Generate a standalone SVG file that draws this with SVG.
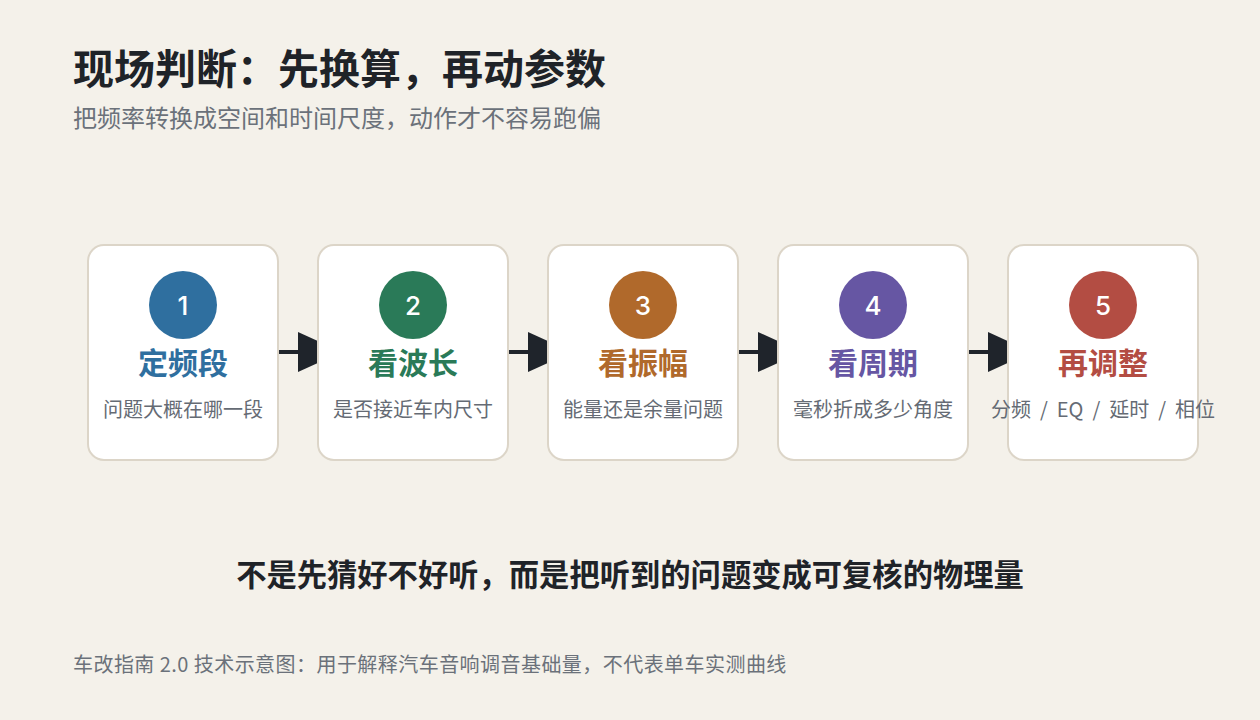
<svg xmlns="http://www.w3.org/2000/svg" width="1260" height="720" viewBox="0 0 1260 720">
<style>
.cjk{font-family:"Noto Sans CJK SC","Noto Sans",sans-serif}
.h1{font-size:41px;font-weight:700;fill:#1f2328}
.sub{font-size:24px;fill:#6b717a}
.card{fill:#ffffff;stroke:#dcd5c8;stroke-width:2}
.num{font-family:Inter,"Liberation Sans",sans-serif;font-size:26px;font-weight:500;fill:#ffffff;text-anchor:middle}
.ttl{font-size:30px;font-weight:700;text-anchor:middle}
.desc{font-size:20px;fill:#656b74;text-anchor:middle}
.conn{stroke:#1f242b;stroke-width:4;fill:none}
.key{font-size:30.3px;font-weight:700;fill:#1f2328;text-anchor:middle}
.foot{font-size:20px;fill:#6b717a;letter-spacing:0.45px}
</style>
<defs>
<marker id="ah" markerUnits="userSpaceOnUse" markerWidth="44" markerHeight="40" refX="44" refY="20" orient="auto" viewBox="0 0 44 40">
<path d="M0,0 L44,20 L0,40 Z" fill="#1f242b"/>
</marker>
</defs>
<rect width="1260" height="720" fill="#f4f1ea"/>
<text class="cjk h1" x="73" y="84">现场判断：先换算，再动参数</text>
<text class="cjk sub" x="73" y="127">把频率转换成空间和时间尺度，动作才不容易跑偏</text>
<g id="connectors">
<line class="conn" x1="278" y1="352" x2="342" y2="352" marker-end="url(#ah)"/>
<line class="conn" x1="508" y1="352" x2="572" y2="352" marker-end="url(#ah)"/>
<line class="conn" x1="738" y1="352" x2="802" y2="352" marker-end="url(#ah)"/>
<line class="conn" x1="968" y1="352" x2="1032" y2="352" marker-end="url(#ah)"/>
</g>
<g id="node1">
<rect class="card" x="88" y="245" width="190" height="215" rx="16"/>
<circle cx="183" cy="305" r="34" fill="#2f6f9f"/>
<text class="num" x="183" y="315">1</text>
<text class="cjk ttl" x="183" y="374" fill="#2f6f9f">定频段</text>
<text class="cjk desc" x="183" y="417">问题大概在哪一段</text>
</g>
<g id="node2">
<rect class="card" x="318" y="245" width="190" height="215" rx="16"/>
<circle cx="413" cy="305" r="34" fill="#2a7a58"/>
<text class="num" x="413" y="315">2</text>
<text class="cjk ttl" x="413" y="374" fill="#2a7a58">看波长</text>
<text class="cjk desc" x="413" y="417">是否接近车内尺寸</text>
</g>
<g id="node3">
<rect class="card" x="548" y="245" width="190" height="215" rx="16"/>
<circle cx="643" cy="305" r="34" fill="#b0692b"/>
<text class="num" x="643" y="315">3</text>
<text class="cjk ttl" x="643" y="374" fill="#b0692b">看振幅</text>
<text class="cjk desc" x="643" y="417">能量还是余量问题</text>
</g>
<g id="node4">
<rect class="card" x="778" y="245" width="190" height="215" rx="16"/>
<circle cx="873" cy="305" r="34" fill="#6656a3"/>
<text class="num" x="873" y="315">4</text>
<text class="cjk ttl" x="873" y="374" fill="#6656a3">看周期</text>
<text class="cjk desc" x="873" y="417">毫秒折成多少角度</text>
</g>
<g id="node5">
<rect class="card" x="1008" y="245" width="190" height="215" rx="16"/>
<circle cx="1103" cy="305" r="34" fill="#b34d43"/>
<text class="num" x="1103" y="315">5</text>
<text class="cjk ttl" x="1103" y="374" fill="#b34d43">再调整</text>
<text class="cjk desc" x="1103" y="417" word-spacing="4.5">分频 / EQ / 延时 / 相位</text>
</g>
<text class="cjk key" x="630" y="586">不是先猜好不好听，而是把听到的问题变成可复核的物理量</text>
<text class="cjk foot" x="73" y="672">车改指南 2.0 技术示意图：用于解释汽车音响调音基础量，不代表单车实测曲线</text>
</svg>
